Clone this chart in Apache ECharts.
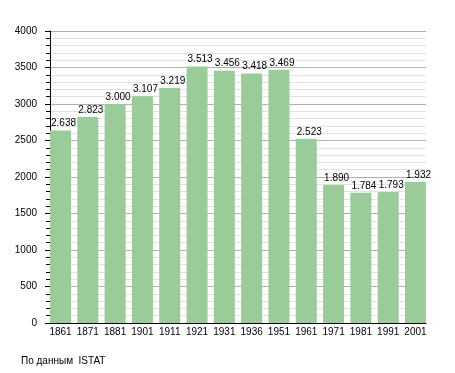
<!DOCTYPE html>
<html>
<head>
<meta charset="utf-8">
<script src="https://cdn.jsdelivr.net/npm/echarts@6/dist/echarts.min.js"></script>
<style>
html,body{margin:0;padding:0;background:#fff;}
#c{width:455px;height:373px;}
</style>
</head>
<body>
<div id="c"></div>
<script>
const years = ['1861','1871','1881','1901','1911','1921','1931','1936','1951','1961','1971','1981','1991','2001'];
const population = [2638, 2823, 3000, 3107, 3219, 3513, 3456, 3418, 3469, 2523, 1890, 1784, 1793, 1932];
const yMin = 0, yMax = 4000, yStep = 500;
const sourceNote = 'По данным  ISTAT';

const font = 'Liberation Sans, Arial, sans-serif';
function fmt(v){ return String(v).replace(/\B(?=(\d{3})+(?!\d))/g, '.'); }

const chart = echarts.init(document.getElementById('c'), null, {renderer:'canvas'});
chart.setOption({
  animation: false,
  backgroundColor: '#ffffff',
  grid: [
    {left: 50, top: 31, width: 376, height: 292, containLabel: false},
    {left: 46.85, top: 31, width: 382.3, height: 292, containLabel: false}
  ],
  xAxis: [
    {gridIndex: 0, type: 'value', min: 0, max: 1, axisLine: {show: true, lineStyle: {color: '#000', width: 1}},
     axisTick: {show: false}, axisLabel: {show: false}, splitLine: {show: false}},
    {gridIndex: 1, type: 'category', data: years, axisLine: {show: false}, axisTick: {show: false},
     axisLabel: {color: '#000', fontSize: 10, fontFamily: font, margin: 4, interval: 0}}
  ],
  yAxis: [
    {gridIndex: 0, type: 'value', min: yMin, max: yMax, interval: yStep,
     axisLine: {show: true, lineStyle: {color: '#000', width: 1}},
     axisTick: {show: true, length: 5, lineStyle: {color: '#000'}},
     minorTick: {show: true, splitNumber: 5, length: 4, lineStyle: {color: '#000'}},
     axisLabel: {color: '#000', fontSize: 10, fontFamily: font, margin: 13, formatter: v => String(v)},
     splitLine: {show: true, lineStyle: {color: '#b0b0b0', width: 1}},
     minorSplitLine: {show: true, lineStyle: {color: '#e2e2e2', width: 1}}},
    {gridIndex: 1, type: 'value', min: yMin, max: yMax, show: false, splitLine: {show: false}}
  ],
  series: [{
    type: 'bar',
    xAxisIndex: 1, yAxisIndex: 1,
    data: population,
    barWidth: 21,
    itemStyle: {color: '#99cc99'},
    label: {
      show: true,
      position: [1, -2],
      align: 'left',
      verticalAlign: 'bottom',
      color: '#000',
      fontSize: 10,
      fontFamily: font,
      formatter: p => fmt(p.value)
    },
    z: 3
  }],
  graphic: [{
    type: 'text', left: 21, top: 356,
    style: {text: sourceNote, fill: '#000', font: '10px ' + font}
  }]
});
</script>
</body>
</html>
